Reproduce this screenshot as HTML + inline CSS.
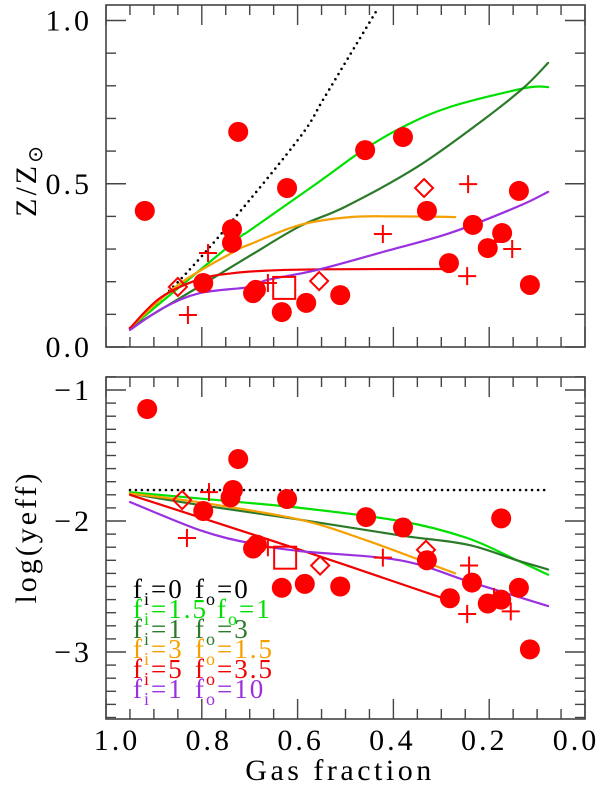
<!DOCTYPE html>
<html><head><meta charset="utf-8"><style>
html,body{margin:0;padding:0;background:#fff;}
svg{display:block;font-family:"Liberation Serif",serif;}
</style></head><body>
<svg id="chart" width="600" height="786" viewBox="0 0 600 786" xmlns="http://www.w3.org/2000/svg"></svg>
<script>
// ===== data: top panel (Z/Zsun vs gas fraction) =====
const topCircleF=[0.919,0.724,0.737,0.737,0.797,0.693,0.687,0.633,0.582,0.511,0.622,0.459,0.380,0.330,0.284,0.234,0.173,0.203,0.138,0.115];
const topCircleV=[0.417,0.659,0.361,0.319,0.196,0.165,0.175,0.107,0.135,0.159,0.487,0.603,0.643,0.417,0.257,0.374,0.349,0.303,0.478,0.190];
const topCrossF=[0.787,0.829,0.662,0.422,0.244,0.246,0.188,0.152];
const topCrossV=[0.288,0.098,0.196,0.346,0.499,0.217,0.322,0.300];
const topDiamondF=[0.336,0.555,0.85];
const topDiamondV=[0.487,0.202,0.184];
const topSquareF=[0.628];
const topSquareV=[0.181];
const topDottedF=[0.95,0.846,0.735,0.595,0.547,0.491,0.432];
const topDottedV=[0.058,0.205,0.389,0.643,0.757,0.894,1.038];
const topGreenF=[0.95,0.735,0.699,0.559,0.463,0.380,0.282,0.125,0.077];
const topGreenV=[0.058,0.319,0.358,0.502,0.603,0.674,0.735,0.793,0.796];
const topDkGreenF=[0.95,0.80,0.699,0.595,0.50,0.351,0.213,0.129,0.077];
const topDkGreenV=[0.058,0.19,0.28,0.37,0.43,0.551,0.695,0.793,0.870];
const topOrangeF=[0.95,0.85,0.735,0.699,0.595,0.491,0.40,0.271];
const topOrangeV=[0.058,0.19,0.29,0.315,0.374,0.398,0.40,0.398];
const topRedF=[0.95,0.887,0.804,0.735,0.664,0.55,0.292];
const topRedV=[0.058,0.150,0.208,0.226,0.234,0.238,0.239];
const topPurpleF=[0.95,0.88,0.804,0.699,0.664,0.559,0.422,0.282,0.142,0.077];
const topPurpleV=[0.052,0.12,0.165,0.184,0.205,0.236,0.291,0.349,0.429,0.475];
// ===== data: bottom panel (log yeff) =====
const botCircleF=[0.914,0.724,0.735,0.740,0.797,0.693,0.685,0.622,0.633,0.585,0.511,0.457,0.380,0.330,0.282,0.236,0.203,0.175,0.175,0.138,0.115];
const botCircleV=[-1.145,-1.527,-1.763,-1.82,-1.924,-2.21,-2.18,-1.832,-2.51,-2.48,-2.50,-1.97,-2.05,-2.30,-2.59,-2.47,-2.63,-2.60,-1.98,-2.51,-2.98];
const botCrossF=[0.785,0.831,0.662,0.422,0.242,0.246,0.155,0.19];
const botCrossV=[-1.78,-2.13,-2.20,-2.28,-2.34,-2.71,-2.69,-2.58];
const botDiamondF=[0.841,0.553,0.332];
const botDiamondV=[-1.84,-2.34,-2.22];
const botSquareF=[0.626];
const botSquareV=[-2.28];
const botDottedF=[0.95,0.077];
const botDottedV=[-1.763,-1.763];
const botGreenF=[0.95,0.80,0.595,0.386,0.246,0.142,0.077];
const botGreenV=[-1.78,-1.83,-1.90,-2.0,-2.13,-2.30,-2.41];
const botDkGreenF=[0.95,0.80,0.595,0.386,0.246,0.142,0.077];
const botDkGreenV=[-1.79,-1.88,-1.99,-2.11,-2.18,-2.30,-2.37];
const botOrangeF=[0.95,0.80,0.595,0.455,0.271];
const botOrangeV=[-1.79,-1.86,-1.99,-2.15,-2.40];
const botRedF=[0.95,0.595,0.288];
const botRedV=[-1.80,-2.22,-2.60];
const botPurpleF=[0.95,0.804,0.699,0.595,0.386,0.236,0.077];
const botPurpleV=[-1.855,-2.07,-2.17,-2.23,-2.30,-2.47,-2.65];
const xTickLabels=["1.0","0.8","0.6","0.4","0.2","0.0"];
const xTickValues=[1.0,0.8,0.6,0.4,0.2,0.0];
const topTickLabels=["0.0","0.5","1.0"];
const topTickValues=[0,0.5,1.0];
const botTickLabels=["\u22121","\u22122","\u22123"];
const botTickValues=[-1,-2,-3];

const NS="http://www.w3.org/2000/svg";
const svg=document.getElementById('chart');
const L=106,R=585;
function X(f){return L+(1-f)*(R-L);}
function XL(f){return 117+(1-f)*459;}
function Yt(v){return 347-v*326.5;}
function Yb(v){return 390-(v+1)*131;}
function mk(tag,attrs,parent){const e=document.createElementNS(NS,tag);for(const k in attrs)e.setAttribute(k,attrs[k]);(parent||svg).appendChild(e);return e;}

function frame(top,bot,Y,vmin,vmax,minorStep,majors,labels,name){
  const g=mk('g',{});
  
  
  mk('rect',{x:L,y:top,width:R-L,height:bot-top,fill:'none',stroke:'#444','stroke-width':1.6},g);
  for(let i=0;i<=20;i++){const f=i*0.05;const x=X(f);const maj=(i%4===0);const len=maj?20:10;
    mk('line',{x1:x,y1:bot,x2:x,y2:bot-len,stroke:'#444','stroke-width':1.4},g);
    mk('line',{x1:x,y1:top,x2:x,y2:top+len,stroke:'#444','stroke-width':1.4},g);}
  const n=Math.round((vmax-vmin)/minorStep);
  for(let i=0;i<=n;i++){const v=vmin+i*minorStep;const y=Y(v);if(y<top-0.5||y>bot+0.5)continue;
    const maj=majors.some(m=>Math.abs(m-v)<1e-6);const len=maj?20:10;
    mk('line',{x1:L,y1:y,x2:L+len,y2:y,stroke:'#444','stroke-width':1.4},g);
    mk('line',{x1:R,y1:y,x2:R-len,y2:y,stroke:'#444','stroke-width':1.4},g);}
  majors.forEach((m,i)=>{const t=mk('text',{x:92,y:Y(m)+10,'text-anchor':'end','font-size':30,'letter-spacing':3,fill:'#000'},g);t.textContent=labels[i];
    
    });
}
frame(5,347,Yt,0,1.0,0.1,topTickValues,topTickLabels,'top');
frame(377,719,Yb,-3.5,-0.9,0.1,botTickValues,botTickLabels,'bottom');

xTickValues.forEach((f,i)=>{const t=mk('text',{x:XL(f),y:750,'text-anchor':'middle','font-size':30,'letter-spacing':3,fill:'#000'});t.textContent=xTickLabels[i];
  
  });

function smoothPath(pts){
  let d='M'+pts[0][0].toFixed(1)+','+pts[0][1].toFixed(1);
  for(let i=0;i<pts.length-1;i++){
    const p0=pts[Math.max(0,i-1)],p1=pts[i],p2=pts[i+1],p3=pts[Math.min(pts.length-1,i+2)];
    const c1x=p1[0]+(p2[0]-p0[0])/6,c1y=p1[1]+(p2[1]-p0[1])/6;
    const c2x=p2[0]-(p3[0]-p1[0])/6,c2y=p2[1]-(p3[1]-p1[1])/6;
    d+=`C${c1x.toFixed(1)},${c1y.toFixed(1)} ${c2x.toFixed(1)},${c2y.toFixed(1)} ${p2[0].toFixed(1)},${p2[1].toFixed(1)}`;
  }
  return d;
}
function line(F,V,Y,color,name,dotted){
  const pts=F.map((f,i)=>[X(f),Y(V[i])]);
  const p=mk('path',{d:smoothPath(pts),fill:'none',stroke:color,'stroke-width':dotted?2.6:2.2,'stroke-linecap':'round','stroke-linejoin':'round'});
  if(dotted){p.setAttribute('stroke-dasharray','0 6');}
  
  
}
function points(F,V,Y,kind,name){
  F.forEach((f,i)=>{const x=X(f),y=Y(V[i]);let e;
    if(kind==='circle')e=mk('circle',{cx:x,cy:y,r:10,fill:'#f00'});
    else if(kind==='cross')e=mk('path',{d:`M${x-9},${y}H${x+9}M${x},${y-9}V${y+9}`,stroke:'#f00','stroke-width':2,fill:'none'});
    else if(kind==='diamond')e=mk('path',{d:`M${x},${y-9}L${x+9},${y}L${x},${y+9}L${x-9},${y}Z`,stroke:'#f00','stroke-width':2,fill:'none'});
    else e=mk('rect',{x:x-11,y:y-11,width:22,height:22,stroke:'#f00','stroke-width':2,fill:'none'});
    
    });
}
line(topDottedF,topDottedV,Yt,'#000','top-closed-box-dotted',true);
line(topGreenF,topGreenV,Yt,'#00e000','top-model-green');
line(topDkGreenF,topDkGreenV,Yt,'#2a7a2a','top-model-darkgreen');
line(topOrangeF,topOrangeV,Yt,'#f5a000','top-model-orange');
line(topRedF,topRedV,Yt,'#f00000','top-model-red');
line(topPurpleF,topPurpleV,Yt,'#9a30e0','top-model-purple');
points(topCircleF,topCircleV,Yt,'circle','top-circle-point');
points(topCrossF,topCrossV,Yt,'cross','top-cross-point');
points(topDiamondF,topDiamondV,Yt,'diamond','top-diamond-point');
points(topSquareF,topSquareV,Yt,'square','top-square-point');
line(botDottedF,botDottedV,Yb,'#000','bottom-closed-box-dotted',true);
line(botGreenF,botGreenV,Yb,'#00e000','bottom-model-green');
line(botDkGreenF,botDkGreenV,Yb,'#2a7a2a','bottom-model-darkgreen');
line(botOrangeF,botOrangeV,Yb,'#f5a000','bottom-model-orange');
line(botRedF,botRedV,Yb,'#f00000','bottom-model-red');
line(botPurpleF,botPurpleV,Yb,'#9a30e0','bottom-model-purple');
points(botCircleF,botCircleV,Yb,'circle','bottom-circle-point');
points(botCrossF,botCrossV,Yb,'cross','bottom-cross-point');
points(botDiamondF,botDiamondV,Yb,'diamond','bottom-diamond-point');
points(botSquareF,botSquareV,Yb,'square','bottom-square-point');
</script>
<svg style="position:absolute;left:0;top:0" width="600" height="786" xmlns="http://www.w3.org/2000/svg" font-family="Liberation Serif, serif">
  <text transform="translate(36,180) rotate(-90)" text-anchor="middle" font-size="30" letter-spacing="3">Z/Z<tspan font-family="DejaVu Sans, sans-serif" font-size="20" dy="6">⊙</tspan></text>
  <text transform="translate(36,537) rotate(-90)" text-anchor="middle" font-size="30" letter-spacing="3">log(yeff)</text>
  <text x="340" y="780" text-anchor="middle" font-size="30" letter-spacing="3.5">Gas fraction</text>
  <g font-size="27" letter-spacing="2">
    <g fill="#000"><text x="133" y="598">f<tspan font-size="18" dy="7">i</tspan><tspan dy="-7">=0</tspan></text><text x="195" y="598">f<tspan font-size="18" dy="7">o</tspan><tspan dy="-7">=0</tspan></text></g>
    <g fill="#00e000"><text x="133" y="618">f<tspan font-size="18" dy="7">i</tspan><tspan dy="-7">=1.5</tspan></text><text x="217" y="618">f<tspan font-size="18" dy="7">o</tspan><tspan dy="-7">=1</tspan></text></g>
    <g fill="#2a7a2a"><text x="133" y="638">f<tspan font-size="18" dy="7">i</tspan><tspan dy="-7">=1</tspan></text><text x="195" y="638">f<tspan font-size="18" dy="7">o</tspan><tspan dy="-7">=3</tspan></text></g>
    <g fill="#f5a000"><text x="133" y="658">f<tspan font-size="18" dy="7">i</tspan><tspan dy="-7">=3</tspan></text><text x="195" y="658">f<tspan font-size="18" dy="7">o</tspan><tspan dy="-7">=1.5</tspan></text></g>
    <g fill="#f00000"><text x="133" y="678">f<tspan font-size="18" dy="7">i</tspan><tspan dy="-7">=5</tspan></text><text x="195" y="678">f<tspan font-size="18" dy="7">o</tspan><tspan dy="-7">=3.5</tspan></text></g>
    <g fill="#9a30e0"><text x="133" y="698">f<tspan font-size="18" dy="7">i</tspan><tspan dy="-7">=1</tspan></text><text x="195" y="698">f<tspan font-size="18" dy="7">o</tspan><tspan dy="-7">=10</tspan></text></g>
  </g>
</svg>
</body></html>
